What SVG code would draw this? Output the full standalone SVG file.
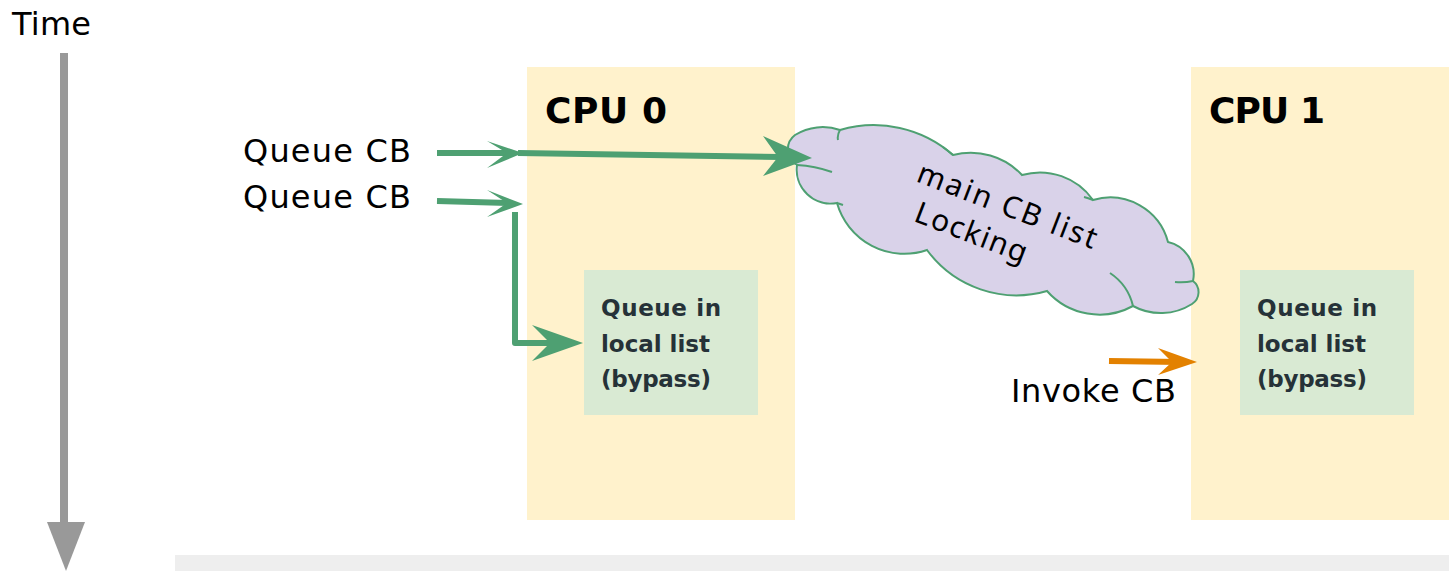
<svg xmlns="http://www.w3.org/2000/svg" width="1449" height="571" viewBox="0 0 1449 571">
<style>
.lbl{font-family:"DejaVu Sans","Liberation Sans",sans-serif;font-size:32px;fill:#000}
.cpu{font-family:"DejaVu Sans","Liberation Sans",sans-serif;font-size:36px;font-weight:bold;fill:#000}
.box{font-family:"DejaVu Sans","Liberation Sans",sans-serif;font-size:23px;font-weight:bold;fill:#263238}
.cpubg{fill:#fff2cc}
.local{fill:#d9ead3}
.gline{fill:none;stroke:#4ea072;stroke-width:6}
.ghead{fill:#4ea072}
.oline{fill:none;stroke:#e38100;stroke-width:6}
.ohead{fill:#e38100}
.cloud{fill:#d9d2e9;stroke:#4ea072;stroke-width:2}
.cin{fill:none;stroke:#4ea072;stroke-width:2}
.ctext{font-family:"Noto Sans","DejaVu Sans",sans-serif;font-size:30px;fill:#000}
</style>
<g id="time">
<text class="lbl" x="12" y="35" textLength="79">Time</text>
<line x1="64" y1="53" x2="64" y2="525" stroke="#999999" stroke-width="8"/>
<polygon points="47,522 85,522 66,571" fill="#999999"/>
</g>
<rect id="bottom-bar" x="175" y="555" width="1274" height="16" fill="#eeeeee"/>
<g id="cpu0">
<rect class="cpubg" x="527" y="67" width="268" height="453"/>
<text class="cpu" x="545" y="123" textLength="122">CPU 0</text>
</g>
<g id="cpu1">
<rect class="cpubg" x="1191" y="67" width="258" height="453"/>
<text class="cpu" x="1209" y="123" textLength="116">CPU 1</text>
</g>
<g id="local0">
<rect class="local" x="584" y="270" width="174" height="145"/>
<text class="box" x="601" y="316" textLength="120">Queue in</text>
<text class="box" x="601" y="352" textLength="109">local list</text>
<text class="box" x="601" y="387" textLength="110">(bypass)</text>
</g>
<g id="local1">
<rect class="local" x="1240" y="270" width="174" height="145"/>
<text class="box" x="1257" y="316" textLength="120">Queue in</text>
<text class="box" x="1257" y="352" textLength="109">local list</text>
<text class="box" x="1257" y="387" textLength="110">(bypass)</text>
</g>
<g id="queue1"><text class="lbl" x="243" y="162" textLength="168">Queue CB</text></g>
<g id="queue2"><text class="lbl" x="243" y="208" textLength="168">Queue CB</text></g>
<g id="invoke"><text class="lbl" x="1011" y="402" textLength="165">Invoke CB</text></g>
<g id="cloud">
<path class="cloud" d="M795,135 A53,53 0 0 1 840,130 A120,120 0 0 1 953,155 A70,70 0 0 1 1022,175 A65,65 0 0 1 1093,200 A60,60 0 0 1 1168,242 A33,33 0 0 1 1193,281 A14,14 0 0 1 1192,304 A58,58 0 0 1 1133,306 A70,70 0 0 1 1047,291 A111,111 0 0 1 927,250 A70,70 0 0 1 837,203 A34,34 0 0 1 797,165 A18,18 0 0 1 795,135 Z"/>
<path class="cin" d="M797,165 Q815,166 832,172 M840,130 Q837,135 838,140 M953,155 Q947,150 943,147 M1093,200 Q1088,198 1084,197 M1193,281 Q1184,283 1175,282 M1133,306 Q1128,285 1110,273 M837,203 Q840,204 843,205"/>
<g transform="translate(915,181) rotate(21)">
<text class="ctext" x="0" y="0" textLength="190">main CB list</text>
<text class="ctext" x="12" y="38" textLength="118">Locking</text>
</g>
</g>
<g id="connectors">
<line class="gline" x1="437" y1="153" x2="508" y2="153"/>
<polygon class="ghead" points="523,153 487,141 507,153 487,168"/>
<line class="gline" x1="518" y1="153" x2="780" y2="157"/>
<polygon class="ghead" points="812,158 763,136 778,157 763,176"/>
<line class="gline" x1="437" y1="201" x2="508" y2="203"/>
<polygon class="ghead" points="523,204 487,190 507,203 487,217"/>
<path class="gline" d="M515,212 V343 H552" stroke-linejoin="round"/>
<polygon class="ghead" points="583,343 532,325 550,343 532,361"/>
<line class="oline" x1="1109" y1="361" x2="1180" y2="362"/>
<polygon class="ohead" points="1197,362 1158,348 1172,362 1158,375"/>
</g>
</svg>
